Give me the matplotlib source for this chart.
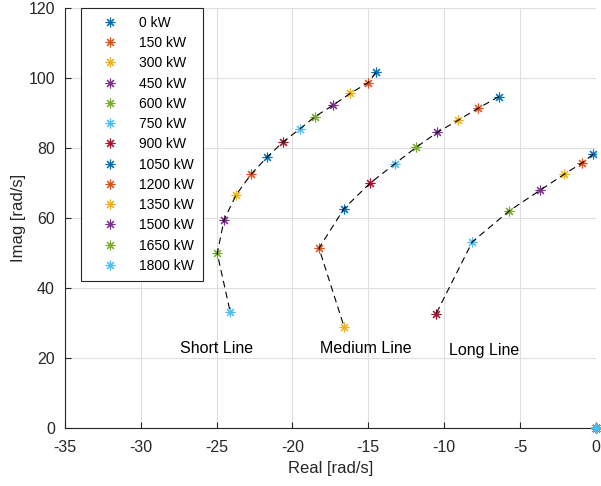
import matplotlib
matplotlib.use("Agg")
import matplotlib.pyplot as plt

plt.rcParams['font.family'] = ['Liberation Sans', 'DejaVu Sans']
plt.rcParams['axes.unicode_minus'] = False

# load steps in kW (legend entries)
loads = [0, 150, 300, 450, 600, 750, 900, 1050, 1200, 1350, 1500, 1650, 1800]

# dominant eigenvalue per load step, one branch per line length
short_real = [-14.5, -15.0, -16.2, -17.3, -18.5, -19.5, -20.6, -21.65, -22.7, -23.7, -24.5, -24.95, -24.1]
short_imag = [101.5, 98.6, 95.5, 92.2, 88.9, 85.4, 81.7, 77.4, 72.5, 66.6, 59.4, 49.8, 33.1]

medium_real = [-6.4, -7.75, -9.1, -10.45, -11.85, -13.25, -14.9, -16.6, -18.25, -16.6]
medium_imag = [94.6, 91.3, 87.8, 84.4, 80.1, 75.4, 69.8, 62.6, 51.3, 28.9]

long_real = [-0.2, -0.9, -2.1, -3.7, -5.7, -8.15, -10.55]
long_imag = [78.1, 75.7, 72.4, 67.8, 62.0, 53.1, 32.4]

line_names = ['Short Line', 'Medium Line', 'Long Line']
name_x = [-27.4, -18.2, -9.7]
name_y = [22.5, 22.5, 22.0]

colors = ['#0072BD', '#D95319', '#EDB120', '#7E2F8E', '#77AC30', '#4DBEEE', '#A2142F']
star = (8, 2, 0)

fig = plt.figure(figsize=(6.01, 4.86), dpi=100)
ax = fig.add_axes([64.7 / 601, 1 - 427.7 / 486, (596 - 64.7) / 601, 420 / 486])

# legend handles sit at the origin
for i, p in enumerate(loads):
    ax.plot(0, 0, linestyle='none', marker=star, markersize=7, markeredgewidth=0.8,
            color=colors[i % 7], label=f'{p} kW', clip_on=False, zorder=4)

for re, im in [(short_real, short_imag), (medium_real, medium_imag), (long_real, long_imag)]:
    for i in range(len(re)):
        ax.plot(re[i], im[i], linestyle='none', marker=star, markersize=7,
                markeredgewidth=0.8, color=colors[i % 7], zorder=3)
    ax.plot(re, im, color='black', linewidth=0.8, dashes=(6, 4), zorder=4)

for name, tx, ty in zip(line_names, name_x, name_y):
    ax.text(tx, ty, name, fontsize=11.5, va='center', ha='left', color='black')

ax.set_xlim(-35, 0)
ax.set_ylim(0, 120)
ax.set_xticks(range(-35, 1, 5))
ax.set_yticks(range(0, 121, 20))
ax.grid(True, color='#dfdfdf', linewidth=0.8)
ax.set_axisbelow(True)
for s in ['top', 'right']:
    ax.spines[s].set_visible(False)
for s in ['left', 'bottom']:
    ax.spines[s].set_color('#262626')
    ax.spines[s].set_linewidth(0.8)
ax.tick_params(direction='in', length=4, width=0.8, colors='#262626',
               labelsize=11.5, labelcolor='#262626')
ax.tick_params(axis='x', pad=9)
ax.tick_params(axis='y', pad=7)
ax.set_xlabel('Real [rad/s]', fontsize=12, color='#262626', labelpad=4)
ax.set_ylabel('Imag [rad/s]', fontsize=12, color='#262626', labelpad=2)

leg = ax.legend(loc='upper left', bbox_to_anchor=(81 / 601, 1 - 7.5 / 486),
                bbox_transform=fig.transFigure, fontsize=10, frameon=True,
                fancybox=False, framealpha=1, edgecolor='#262626',
                borderaxespad=0, labelspacing=0.45, handletextpad=0.6,
                handlelength=3.0, borderpad=0.6)
leg.get_frame().set_linewidth(0.8)

fig.savefig('out.png', dpi=100)
